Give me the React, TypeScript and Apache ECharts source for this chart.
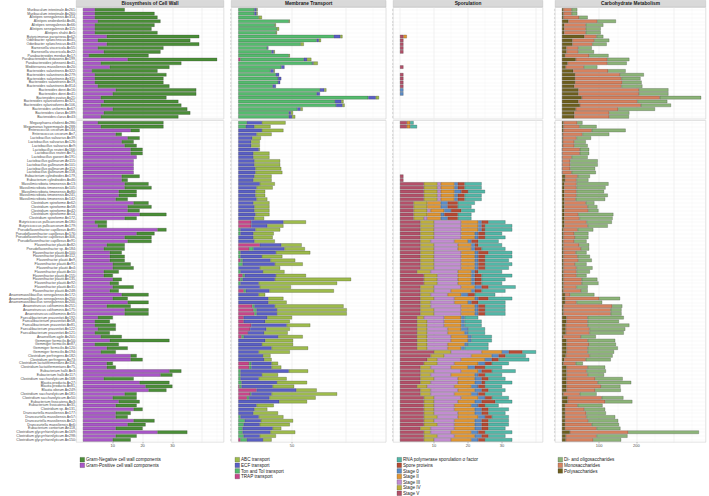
import React, { useEffect, useRef } from "react";
import * as echarts from "echarts";

// ---------------- categories ----------------
const gramNegativeStrains = [
  "Muribaculum intestinale An261", "Muribaculum intestinale An260", "Alistipes senegalensis An314",
  "Alistipes onderdonkii An46", "Alistipes senegalensis An66", "Alistipes senegalensis An115",
  "Alistipes shahii An5", "Butyricimonas paravirosa An62", "Odoribacter splanchnicus An45",
  "Odoribacter splanchnicus An43", "Barnesiella viscericola An55", "Barnesiella viscericola An22",
  "Parabacteroides merdae An17", "Parabacteroides distasonis An199", "Parabacteroides johnsonii An41",
  "Mediterranea massiliensis An20", "Bacteroides salanitronis An322", "Bacteroides salanitronis An279",
  "Bacteroides salanitronis An311", "Bacteroides salanitronis An19", "Bacteroides salanitronis An814",
  "Bacteroides dorei An16", "Bacteroides dorei An41", "Bacteroides ovatus An21",
  "Bacteroides xylanisolvens An321", "Bacteroides xylanisolvens An106", "Bacteroides uniformis An67",
  "Bacteroides clarus An189", "Bacteroides clarus An43",
];

const gramPositiveStrains = [
  "Megasphaera elsdenii An286", "Megamonas hypermegale An288", "Enterococcus cecorum An144",
  "Enterococcus cecorum An7", "Lactobacillus salivarius An39", "Lactobacillus salivarius An126",
  "Lactobacillus salivarius An9", "Lactobacillus reuteri An166", "Lactobacillus reuteri An71",
  "Lactobacillus gasseri An191", "Lactobacillus gallinarum An115", "Lactobacillus gallinarum An101",
  "Lactobacillus gallinarum An112", "Lactobacillus gallinarum An158", "Eubacterium cylindroides An179",
  "Eubacterium cylindroides An46", "Massilimicrobiota timonensis An13", "Massilimicrobiota timonensis An105",
  "Massilimicrobiota timonensis An80", "Massilimicrobiota timonensis An241", "Massilimicrobiota timonensis An142",
  "Clostridium spiroforme An62", "Clostridium spiroforme An58", "Clostridium spiroforme An42",
  "Clostridium spiroforme An14", "Clostridium spiroforme An172", "Butyricicoccus pullicaecorum An180",
  "Butyricicoccus pullicaecorum An179", "Pseudoflavonifractor capillosus An85", "Pseudoflavonifractor capillosus An176",
  "Pseudoflavonifractor capillosus An306", "Pseudoflavonifractor capillosus An91", "Flavonifractor plautii An82",
  "Pseudoflavonifractor sp. An184", "Flavonifractor plautii An100", "Flavonifractor plautii An112",
  "Flavonifractor plautii An9", "Flavonifractor plautii An91", "Flavonifractor plautii An4",
  "Flavonifractor plautii An10", "Flavonifractor plautii An155", "Flavonifractor plautii An135",
  "Flavonifractor plautii An92", "Flavonifractor plautii An31", "Flavonifractor plautii An248",
  "Anaeromassilibacillus senegalensis An172", "Anaeromassilibacillus senegalensis An250", "Anaeromassilibacillus senegalensis An200",
  "Anaerotruncus colihominis An251", "Anaerotruncus colihominis An175", "Anaerotruncus colihominis An55",
  "Faecalibacterium prausnitzii An192", "Faecalibacterium prausnitzii An58", "Faecalibacterium prausnitzii An81",
  "Faecalibacterium prausnitzii An122", "Faecalibacterium prausnitzii An121", "Anaerofilum agile An201",
  "Gemmiger formicilis An50", "Gemmiger formicilis An87", "Gemmiger formicilis An120",
  "Gemmiger formicilis An194", "Clostridium perfringens An182", "Clostridium perfringens An73",
  "Clostridium lactatifermentans An116", "Clostridium lactatifermentans An75", "Eubacterium hallii An3",
  "Eubacterium hallii An117", "Clostridium saccharolyticum An168", "Blautia producta An27",
  "Blautia producta An81", "Blautia obeum An249", "Clostridium saccharolyticum An181",
  "Clostridium saccharolyticum An50", "Eubacterium fissicatena An3", "Eubacterium fissicatena An31",
  "Clostridium sp. An131", "Drancourtella massiliensis An177", "Drancourtella massiliensis An57",
  "Drancourtella massiliensis An12", "Drancourtella massiliensis An6", "Eubacterium contortum An118",
  "Clostridium glycyrrhizinilyticum An169", "Clostridium glycyrrhizinilyticum An298", "Clostridium glycyrrhizinilyticum An150",
];

// ---------------- tick labels ----------------
const wallTicks = [0, 10, 20, 30, 40];
const transportTicks = [0, 50, 100];
const sporulationTicks = [0, 10, 20, 30, 40];
const carbTicks = [0, 100, 200, 300];

// ---------------- Biosynthesis of Cell Wall ----------------
const wallPosTop = [4,4,4,5,4,4,4,8,5,8,5,7,2,15,6,9,3,4,4,4,5,11,10,6,7,6,10,7,6];
const wallNegTop = [10,20,21,21,20,19,21,31,31,31,22,19,20,30,27,20,22,24,23,23,24,27,28,22,25,27,25,29,26];
const wallPosBottom = [5,6,16,11,15,13,14,16,16,18, 17,17,17,17,13,13,14,14,12,12, 11,17,15,15,19,14,4,5,25,18, 14,15,8,7,9,9,9,10,10,7, 7,10,9,10,9,13,10,15,8,14, 14,5,4,4,5,4,6,9,4,8, 6,16,16,8,8,29,26,7,19,21, 22,14,10,12,11,17,11,11,17,15, 11,25,11,10];
const wallNegBottom = [22,21,3,2,4,4,4,4,4,0, 0,0,0,0,6,2,8,9,6,6, 4,5,8,4,9,4,4,3,3,6, 9,8,6,7,4,5,5,6,7,5, 3,3,3,7,3,9,5,7,8,8, 8,5,5,7,6,5,7,20,8,7, 5,2,4,2,3,4,4,10,10,9, 6,4,8,7,7,3,5,4,7,6, 9,10,7,6];

// ---------------- Membrane Transport ----------------
const trapTop = [0,0,0,0,0,0,0,0,0,0,0,0,0,2,0,0,0,0,0,0,0,0,0,0,0,0,0,0,0];
const tonTop = [15,15,19,47,34,36,35,89,73,58,27,31,47,59,69,40,30,35,37,37,32,76,73,121,90,91,55,47,47];
const ecfTop = [2,2,0,0,0,0,0,6,2,0,1,2,0,3,1,3,3,3,3,2,3,4,3,7,6,6,3,2,3];
const abcTop = [1,1,3,1,1,2,1,2,2,3,0,1,1,4,4,0,1,0,0,0,0,2,0,3,2,2,2,2,3];
const trapBottom = [0,0,0,0,0,0,0,0,0,0, 0,0,0,0,0,0,0,0,0,0, 0,0,0,0,0,0,12,12,0,0, 0,0,20,10,0,0,2,0,0,0, 4,2,0,0,5,0,0,0,13,14, 15,5,5,12,11,9,3,0,0,0, 0,0,0,10,10,0,0,0,0,1, 17,11,8,0,0,0,0,0,0,0, 0,0,0,2];
const tonBottom = [8,7,0,0,0,0,0,0,0,0, 0,0,0,0,0,0,0,0,0,0, 0,0,0,0,0,0,0,0,2,2, 0,0,0,4,2,2,2,4,0,2, 2,2,2,0,2,0,0,0,2,3, 2,0,0,0,0,0,2,0,0,0, 0,0,0,2,2,2,2,2,3,2, 0,1,2,0,0,0,0,2,6,5, 4,4,5,6];
const ecfBottom = [14,8,22,17,13,12,12,19,14,14, 15,15,16,16,15,14,20,17,16,16, 17,14,15,15,16,15,30,15,14,12, 14,15,20,29,33,20,26,30,20,21, 29,30,17,20,22,19,28,28,19,19, 19,22,20,33,15,15,32,25,22,31, 19,23,24,19,19,45,20,17,33,29, 37,19,19,38,17,15,14,17,15,15, 28,26,15,15];
const abcBottom = [22,15,20,14,8,8,8,1,15,15, 24,24,24,25,16,17,14,15,9,9, 10,15,14,14,13,9,21,15,23,19, 18,19,19,19,32,19,23,26,19,20, 28,71,73,29,60,6,14,17,64,65, 65,23,23,22,22,22,23,26,29,34, 29,7,7,6,9,18,15,26,28,20, 19,61,43,26,16,12,23,23,30,28, 8,23,15,8];

// ---------------- Sporulation ----------------
const rnaTop = [0,0,0,0,0,0,0,0,0,0,0,0,0,0,0,0,0,0,0,0,0,0,0,0,0,0,0,0,0];
const sporeTop = [0,0,0,0,0,0,0,0,0,0,0,0,0,0,0,0,0,0,0,0,0,0,0,0,0,0,0,0,0];
const stage0Top = [0,0,0,0,0,0,0,0,0,0,0,0,0,0,0,0,0,0,0,0,0,1,1,0,0,0,0,0,0];
const stage2Top = [0,0,0,0,0,0,0,1,0,0,0,0,0,0,0,0,0,0,0,0,0,0,0,0,0,0,0,0,0];
const stage3Top = [0,0,0,0,0,0,0,0,0,0,0,0,0,0,0,0,0,0,0,0,0,0,0,0,0,0,0,0,0];
const stage4Top = [0,0,0,0,0,0,0,0,0,0,0,0,0,0,0,0,0,0,0,0,0,0,0,0,0,0,0,0,0];
const stage5Top = [0,0,0,0,0,0,0,1,1,1,1,1,0,0,0,1,0,1,1,1,1,0,0,0,0,0,0,0,0];
const rnaBottom = [1,2,0,0,0,0,0,0,0,0, 0,0,0,0,0,0,5,5,5,5, 5,5,4,4,4,4,5,8,8,5, 6,6,7,7,7,8,7,8,7,7, 9,7,6,8,7,6,7,8,6,6, 6,4,5,5,5,5,6,6,6,7, 4,6,9,5,5,7,5,5,8,5, 5,5,5,5,4,6,5,5,6,6, 5,8,5,8];
const sporeBottom = [0,0,0,0,0,0,0,0,0,0, 0,0,0,0,0,0,2,2,2,2, 2,3,3,3,4,3,2,1,1,2, 2,2,1,2,3,2,2,2,2,1, 2,2,2,2,2,2,3,2,2,2, 2,0,0,0,0,0,0,0,0,0, 4,2,2,2,3,3,2,2,1,2, 2,2,2,4,2,2,2,2,2,2, 2,2,2,2];
const stage0Bottom = [0,0,0,0,0,0,0,0,0,0, 0,0,0,0,0,0,1,1,2,1, 1,2,2,2,1,2,1,1,1,1, 1,1,1,1,1,1,1,1,1,1, 1,1,1,2,1,2,1,1,1,1, 1,1,1,1,2,1,1,1,1,1, 2,2,2,2,2,1,1,2,2,2, 2,2,2,2,2,2,2,2,2,2, 2,2,2,2];
const stage2Bottom = [1,1,0,0,0,0,0,0,0,0, 0,0,0,0,0,0,4,4,4,4, 4,4,4,4,4,4,5,5,5,4, 4,4,4,4,4,4,4,4,4,4, 4,4,4,4,6,4,6,4,4,4, 4,5,5,5,4,5,5,5,5,4, 6,6,7,7,5,5,7,5,5,5, 5,5,5,5,5,6,5,6,6,6, 6,6,6,6];
const stage3Bottom = [0,0,0,0,0,0,0,0,0,0, 0,0,0,0,0,0,1,1,1,1, 1,0,0,1,0,1,8,8,8,8, 8,7,7,7,8,8,8,8,8,8, 6,6,6,8,5,5,6,7,9,8, 8,6,5,5,6,6,7,7,6,6, 9,8,7,5,6,8,6,7,8,8, 8,7,8,7,6,6,7,6,6,5, 7,6,5,5];
const stage4Bottom = [0,0,0,0,0,0,0,0,0,0, 0,0,0,0,0,0,4,4,4,4, 4,4,4,4,4,3,4,4,4,4, 4,3,4,4,4,4,4,4,4,4, 4,4,4,4,4,3,4,3,3,4, 4,2,3,3,3,3,3,3,3,3, 5,4,3,4,3,4,3,4,3,3, 3,3,3,3,3,3,3,4,3,4, 3,2,4,3];
const stage5Bottom = [2,2,0,0,0,0,0,0,0,0, 0,0,0,0,1,1,7,7,7,7, 7,4,4,4,4,4,6,6,6,6, 6,6,6,6,6,6,6,6,6,5, 7,7,7,6,6,6,6,6,6,6, 6,5,5,5,5,5,5,5,5,5, 10,9,8,7,6,6,6,6,6,5, 6,6,7,7,7,7,7,7,7,7, 6,7,7,7];

// ---------------- Carbohydrate Metabolism ----------------
const polyTop = [4,4,4,17,6,6,6,60,28,28,12,12,8,37,15,10,30,35,35,35,33,44,44,53,44,48,37,33,33];
const monoTop = [22,22,42,78,58,58,58,33,59,54,32,32,65,85,107,49,94,121,125,127,127,163,163,210,159,164,114,94,94];
const diTop = [15,15,23,50,47,40,40,18,40,38,36,42,52,59,52,36,47,64,51,52,56,79,79,111,80,81,99,54,53];
const polyBottom = [4,4,4,2,2,2,2,1,1,1, 1,1,1,1,8,8,6,6,6,6, 6,6,6,6,6,6,6,6,4,4, 4,4,4,4,4,4,4,4,4,4, 4,4,4,4,4,8,8,8,4,4, 4,12,12,10,10,10,4,12,12,12, 12,10,6,4,12,12,12,12,12,12, 12,4,15,15,8,8,8,8,8,8, 8,21,10,10];
const monoBottom = [37,43,76,53,37,31,31,47,47,25, 21,21,21,25,34,31,33,33,33,33, 31,58,63,65,38,41,60,63,38,29, 31,29,42,47,33,38,40,31,35,35, 35,49,49,35,47,14,92,31,131,127, 127,57,57,59,64,64,47,57,61,57, 57,64,58,33,57,54,57,77,84,93, 77,44,92,101,34,52,57,58,63,72, 85,157,83,74];
const diBottom = [14,46,91,72,39,31,36,25,25,43, 74,74,67,65,33,32,86,78,74,84, 79,23,26,27,94,89,68,54,42,38, 36,33,27,22,29,33,36,31,43,36, 27,42,45,30,18,65,56,69,27,29, 29,97,84,112,96,92,40,74,72,81, 71,62,67,19,47,52,44,74,90,52, 69,45,58,73,67,56,53,77,80,73, 64,190,83,75];

// ---------------- layout / style ----------------
const FONT = "'Liberation Sans', Arial, Helvetica, sans-serif";
const ROW = 3.82;
const groups = [
  { y: 7.5, names: gramNegativeStrains },
  { y: 120.5, names: gramPositiveStrains },
];

type Seg = { name: string; color: string; top: number[]; bottom: number[] };
type Panel = {
  title: string; zero: number; unit: number; maxVal: number; major: number; minor: number;
  ticks: number[]; legendX: number; segments: Seg[]; // segments in legend order
};

const panels: Panel[] = [
  {
    title: "Biosynthesis of Cell Wall", zero: 83, unit: 2.98, maxVal: 45, major: 10, minor: 5,
    ticks: wallTicks, legendX: 80,
    segments: [
      { name: "Gram-Negative cell wall components", color: "#4A8E37", top: wallNegTop, bottom: wallNegBottom },
      { name: "Gram-Positive cell wall components", color: "#A956C8", top: wallPosTop, bottom: wallPosBottom },
    ],
  },
  {
    title: "Membrane Transport", zero: 238.3, unit: 1.074, maxVal: 131, major: 50, minor: 25,
    ticks: transportTicks, legendX: 235,
    segments: [
      { name: "ABC transport", color: "#9DBB4B", top: abcTop, bottom: abcBottom },
      { name: "ECF transport", color: "#5A5FC5", top: ecfTop, bottom: ecfBottom },
      { name: "Ton and Tol transport", color: "#55BB6E", top: tonTop, bottom: tonBottom },
      { name: "TRAP transport", color: "#C8458A", top: trapTop, bottom: trapBottom },
    ],
  },
  {
    title: "Sporulation", zero: 400, unit: 3.4, maxVal: 40, major: 10, minor: 5,
    ticks: sporulationTicks, legendX: 397,
    segments: [
      { name: "RNA polymerase sporulation σ factor", color: "#52B8A8", top: rnaTop, bottom: rnaBottom },
      { name: "Spore proteins", color: "#B84A32", top: sporeTop, bottom: sporeBottom },
      { name: "Stage 0", color: "#5A8CC8", top: stage0Top, bottom: stage0Bottom },
      { name: "Stage II", color: "#E19632", top: stage2Top, bottom: stage2Bottom },
      { name: "Stage III", color: "#C38CD2", top: stage3Top, bottom: stage3Bottom },
      { name: "Stage IV", color: "#BEAF3C", top: stage4Top, bottom: stage4Bottom },
      { name: "Stage V", color: "#B45069", top: stage5Top, bottom: stage5Bottom },
    ],
  },
  {
    title: "Carbohydrate Metabolism", zero: 562, unit: 0.372, maxVal: 368, major: 100, minor: 50,
    ticks: carbTicks, legendX: 558,
    segments: [
      { name: "Di- and oligosaccharides", color: "#8CB478", top: diTop, bottom: diBottom },
      { name: "Monosaccharides", color: "#D7825F", top: monoTop, bottom: monoBottom },
      { name: "Polysaccharides", color: "#6E5F1E", top: polyTop, bottom: polyBottom },
    ],
  },
];

function buildOption() {
  const grids: any[] = [];
  const xAxes: any[] = [];
  const yAxes: any[] = [];
  const series: any[] = [];
  const graphics: any[] = [];

  panels.forEach((p, pi) => {
    const frameLeft = p.zero - 0.05 * p.maxVal * p.unit;
    const frameWidth = 1.1 * p.maxVal * p.unit;
    const vMin = -0.05 * p.maxVal;
    const vMax = 1.05 * p.maxVal;

    // strip header
    graphics.push({
      type: "rect", z: 100,
      shape: { x: frameLeft, y: 0.4, width: frameWidth, height: 6.6 },
      style: { fill: "#D9D9D9", stroke: "#B8B8B8", lineWidth: 0.4 },
    });
    graphics.push({
      type: "text", z: 101,
      style: {
        text: p.title, x: frameLeft + frameWidth / 2, y: 3.8,
        textAlign: "center", textVerticalAlign: "middle",
        fontSize: 4.8, fontWeight: "bold", fontFamily: FONT, fill: "#1A1A1A",
      },
    });

    // legend
    p.segments.forEach((s, si) => {
      const y = 457.4 + si * 5.6;
      graphics.push({
        type: "rect", z: 100,
        shape: { x: p.legendX, y, width: 4.6, height: 4.6 },
        style: { fill: s.color, stroke: "#333333", lineWidth: 0.25 },
      });
      graphics.push({
        type: "text", z: 100,
        style: {
          text: s.name, x: p.legendX + 6, y: y + 2.4,
          textAlign: "left", textVerticalAlign: "middle",
          fontSize: 4.6, fontFamily: FONT, fill: "#1A1A1A",
        },
      });
    });

    groups.forEach((g, gi) => {
      const n = g.names.length;
      const isBottom = gi === 1;
      const panelH = (n + 0.2) * ROW;

      // background grid: full panel with frame and vertical grid lines
      const bgGrid = grids.length;
      grids.push({
        left: frameLeft, top: g.y, width: frameWidth, height: panelH,
        show: true, borderColor: "#C4C4C4", borderWidth: 0.5, backgroundColor: "transparent",
      });
      xAxes.push({
        type: "value", gridIndex: bgGrid, min: vMin, max: vMax, minInterval: p.minor, maxInterval: p.minor,
        position: "top", z: 0,
        axisLine: { show: false }, axisTick: { show: false }, axisLabel: { show: false },
        splitLine: { show: true, lineStyle: { color: "#F3F3F3", width: 0.3 } },
      });
      xAxes.push({
        type: "value", gridIndex: bgGrid, min: vMin, max: vMax, minInterval: p.major, maxInterval: p.major,
        position: "bottom", z: 1,
        axisLine: { show: false },
        axisTick: {
          show: isBottom, length: 1.3, customValues: p.ticks,
          lineStyle: { color: "#444444", width: 0.35 },
        },
        axisLabel: {
          show: isBottom, customValues: p.ticks, showMinLabel: false, showMaxLabel: false,
          fontSize: 4, color: "#4D4D4D", margin: 1.4, fontFamily: FONT,
          formatter: (v: number) => (p.ticks.indexOf(v) >= 0 ? String(v) : ""),
        },
        splitLine: { show: true, lineStyle: { color: "#EBEBEB", width: 0.45 } },
      });
      yAxes.push({
        type: "value", gridIndex: bgGrid, min: 0, max: 1,
        axisLine: { show: false }, axisTick: { show: false }, axisLabel: { show: false }, splitLine: { show: false },
      });

      // data grid: rows centered like ggplot's discrete scale
      const dGrid = grids.length;
      grids.push({
        left: frameLeft, top: g.y + 0.6 * ROW, width: frameWidth, height: (n - 1) * ROW,
      });
      const xIdx = xAxes.length;
      xAxes.push({
        type: "value", gridIndex: dGrid, min: vMin, max: vMax, show: false,
        splitLine: { show: false },
      });
      const yIdx = yAxes.length;
      yAxes.push({
        type: "category", gridIndex: dGrid, data: g.names, inverse: true, boundaryGap: false, z: 1,
        axisLine: { show: false, onZero: false },
        axisTick: { show: true, length: 1.2, interval: 0, lineStyle: { color: "#444444", width: 0.3 } },
        axisLabel: {
          show: pi === 0, interval: 0, fontSize: 3.5, color: "#4D4D4D", margin: 1.4, fontFamily: FONT,
        },
        splitLine: { show: true, interval: 0, lineStyle: { color: "#EEEEEE", width: 0.35 } },
      });

      // stacked bars: last legend entry sits next to zero
      const stackOrder = p.segments.slice().reverse();
      stackOrder.forEach((s) => {
        const vals = isBottom ? s.bottom : s.top;
        series.push({
          type: "bar", name: s.name, stack: `p${pi}g${gi}`,
          xAxisIndex: xIdx, yAxisIndex: yIdx,
          data: vals.map((v) => (v === 0 ? null : v)),
          barWidth: "90%",
          itemStyle: { color: s.color, borderColor: "rgba(30,30,30,0.75)", borderWidth: 0.3 },
          silent: true,
          emphasis: { disabled: true },
        });
      });
    });
  });

  return {
    animation: false,
    backgroundColor: "#FFFFFF",
    textStyle: { fontFamily: FONT },
    grid: grids,
    xAxis: xAxes,
    yAxis: yAxes,
    series,
    graphic: graphics,
  };
}

export default function App() {
  const ref = useRef<HTMLDivElement>(null);
  useEffect(() => {
    if (!ref.current) return;
    const chart = echarts.init(ref.current, undefined, { renderer: "svg", width: 709, height: 496 });
    chart.setOption(buildOption() as any);
    return () => chart.dispose();
  }, []);
  return (
    <div
      ref={ref}
      style={{ position: "absolute", left: 0, top: 0, width: 709, height: 496, background: "#FFFFFF" }}
    />
  );
}
